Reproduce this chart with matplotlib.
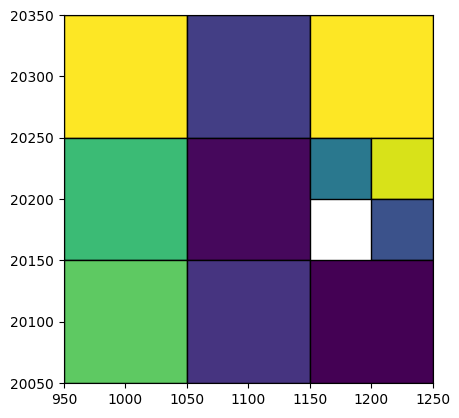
import matplotlib
matplotlib.use("Agg")
import matplotlib.pyplot as plt
import numpy as np
from matplotlib.patches import Rectangle
from matplotlib.collections import PatchCollection

# cells: left x, bottom y, width, height, value (nan = empty)
cell_x = [950, 1050, 1150, 950, 1050, 1150, 1200, 1150, 1200, 950, 1050, 1150]
cell_y = [20250, 20250, 20250, 20150, 20150, 20200, 20200, 20150, 20150, 20050, 20050, 20050]
cell_w = [100, 100, 100, 100, 100, 50, 50, 50, 50, 100, 100, 100]
cell_h = [100, 100, 100, 100, 100, 50, 50, 50, 50, 100, 100, 100]
cell_val = [1.0, 0.18, 1.0, 0.68, 0.02, 0.40, 0.94, np.nan, 0.25, 0.75, 0.15, 0.0]

fig = plt.figure(figsize=(4.6, 4.18), dpi=100)
ax = fig.add_axes([0.139, 0.0837, 0.802, 0.880])

patches = []
vals = []
for x, y, w, h, v in zip(cell_x, cell_y, cell_w, cell_h, cell_val):
    if np.isnan(v):
        continue
    patches.append(Rectangle((x, y), w, h))
    vals.append(v)

pc = PatchCollection(patches, cmap="viridis", edgecolor="black", linewidth=1)
pc.set_array(np.array(vals))
pc.set_clim(0, 1)
ax.add_collection(pc)

ax.set_xlim(950, 1250)
ax.set_ylim(20050, 20350)
ax.set_xticks([950, 1000, 1050, 1100, 1150, 1200, 1250])
ax.set_yticks([20050, 20100, 20150, 20200, 20250, 20300, 20350])

fig.savefig("out.png", dpi=100)
